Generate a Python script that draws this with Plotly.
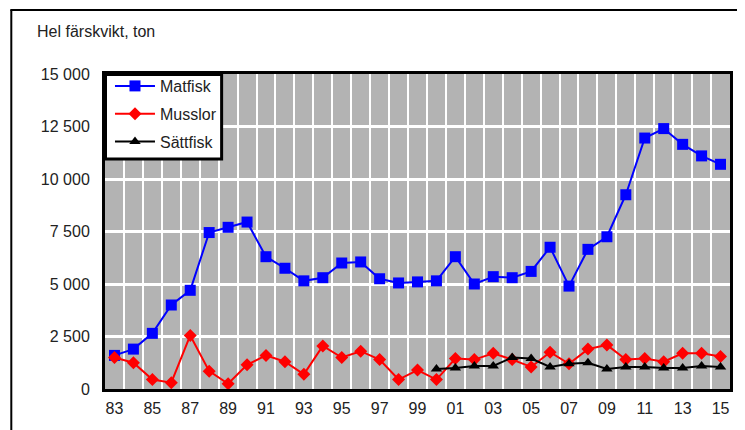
import plotly.graph_objects as go

years = list(range(1983, 2016))
matfisk = [1600, 1900, 2650, 4000, 4700, 7450, 7700, 7950, 6300, 5750, 5150,
           5300, 6000, 6050, 5250, 5050, 5100, 5150, 6300, 5000, 5350, 5300,
           5600, 6750, 4900, 6650, 7250, 9250, 11950, 12400, 11650, 11100, 10700]
musslor = [1500, 1250, 450, 300, 2550, 850, 250, 1150, 1600, 1300, 700,
           2050, 1500, 1800, 1400, 450, 900, 450, 1450, 1400, 1700, 1400,
           1050, 1750, 1200, 1900, 2100, 1400, 1450, 1300, 1700, 1700, 1550]
sattfisk_years = list(range(2000, 2016))
sattfisk = [950, 1000, 1100, 1100, 1500, 1450, 1050, 1200, 1250, 950, 1050,
            1050, 1000, 1000, 1100, 1050]

x_tick_years = list(range(1983, 2016, 2))
x_tick_labels = [f"{y % 100:02d}" for y in x_tick_years]
y_tick_vals = [0, 2500, 5000, 7500, 10000, 12500, 15000]
y_tick_labels = ["0", "2 500", "5 000", "7 500", "10 000", "12 500", "15 000"]

# page body has an 8px margin; work in screen coordinates and shift
OFF = 8
W, H = 745 - OFF, 430 - OFF
L, R, T, B = 105 - OFF, 13, 74 - OFF, 41
pw, ph = W - L - R, H - T - B

def px(xs):
    return (xs - OFF - L) / pw

def py(ys):
    return (H - B - (ys - OFF)) / ph

fig = go.Figure()
fig.add_trace(go.Scatter(
    x=years, y=matfisk, name="Matfisk", mode="lines+markers",
    line=dict(color="#0000ff", width=2),
    marker=dict(symbol="square", size=11, color="#0000ff"),
    legendgroup="a"))
fig.add_trace(go.Scatter(
    x=years, y=musslor, name="Musslor", mode="lines+markers",
    line=dict(color="#ff0000", width=2),
    marker=dict(symbol="diamond", size=10, color="#ff0000"),
    legendgroup="b"))
fig.add_trace(go.Scatter(
    x=sattfisk_years, y=sattfisk, name="Sättfisk", mode="lines+markers",
    line=dict(color="#000000", width=2),
    marker=dict(symbol="triangle-up", size=10, color="#000000"),
    legendgroup="c"))

font = "Liberation Sans, Arial, sans-serif"

fig.update_layout(
    width=W, height=H,
    margin=dict(l=L, r=R, t=T, b=B, pad=0),
    paper_bgcolor="white",
    plot_bgcolor="#b3b3b3",
    font=dict(family=font, size=16, color="#222222"),
    showlegend=True,
    legend=dict(
        x=px(110), y=py(69), xanchor="left", yanchor="top",
        bgcolor="rgba(0,0,0,0)", borderwidth=0,
        font=dict(size=16, color="#222222"),
        itemwidth=40,
        traceorder="grouped", tracegroupgap=4,
    ),
    xaxis=dict(
        range=[1982.5, 2015.5],
        tickmode="array", tickvals=x_tick_years, ticktext=x_tick_labels,
        showgrid=False, zeroline=False, ticks="", ticklabelstandoff=3,
        showline=True, linecolor="black", linewidth=3, mirror=True,
        minor=dict(tickvals=[y + 0.5 for y in years[:-1]], showgrid=True,
                   gridcolor="white", gridwidth=2, ticks=""),
        fixedrange=True,
    ),
    yaxis=dict(
        range=[0, 15000],
        tickmode="array", tickvals=y_tick_vals, ticktext=y_tick_labels,
        showgrid=True, gridcolor="white", gridwidth=2.5,
        zeroline=False, ticks="", ticklabelstandoff=9,
        showline=True, linecolor="black", linewidth=3, mirror=True,
        fixedrange=True,
    ),
    annotations=[dict(
        text="Hel färskvikt, ton", xref="paper", yref="paper",
        x=px(35), y=py(31), xanchor="left", yanchor="middle",
        showarrow=False, font=dict(size=16, color="#222222"))],
    shapes=[
        dict(type="line", xref="paper", yref="paper",
             x0=px(11), x1=px(11), y0=py(10), y1=py(440),
             line=dict(color="black", width=2)),
        dict(type="line", xref="paper", yref="paper",
             x0=px(10), x1=px(760), y0=py(10), y1=py(10),
             line=dict(color="black", width=2)),
        dict(type="rect", xref="paper", yref="paper", layer="above",
             x0=px(105.5), x1=px(222), y0=py(74.5), y1=py(159),
             fillcolor="white", line=dict(color="black", width=3)),
    ],
)

fig.write_html("out.html")
